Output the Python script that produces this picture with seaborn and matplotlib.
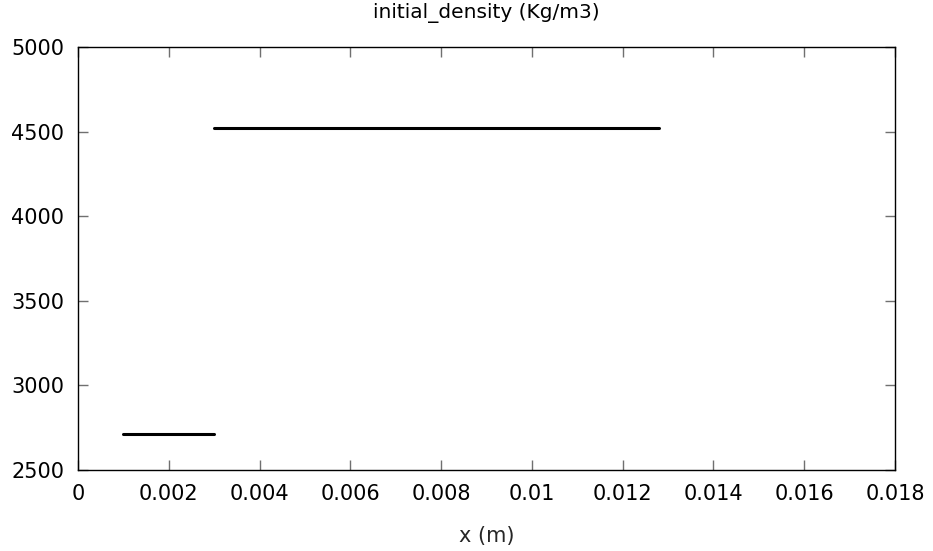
import numpy as np
import pandas as pd
import matplotlib
matplotlib.use('Agg')
import matplotlib.pyplot as plt
import seaborn as sns

sns.set_theme(style="ticks")
plt.rcParams['font.family'] = ['DejaVu Sans']

# segment data (x in m, density in Kg/m3)
seg1_x = [0.001, 0.003]
seg1_rho = [2710, 2710]
seg2_x = [0.003, 0.0128]
seg2_rho = [4520, 4520]

x_ticks = [0, 0.002, 0.004, 0.006, 0.008, 0.01, 0.012, 0.014, 0.016, 0.018]
x_labels = ['0', '0.002', '0.004', '0.006', '0.008', '0.01', '0.012', '0.014', '0.016', '0.018']
y_ticks = [2500, 3000, 3500, 4000, 4500, 5000]

df = pd.concat([
    pd.DataFrame({'x': seg1_x, 'rho': seg1_rho, 'seg': 'a'}),
    pd.DataFrame({'x': seg2_x, 'rho': seg2_rho, 'seg': 'b'}),
])

fig = plt.figure(figsize=(9.33, 5.51), dpi=100)
ax = fig.add_axes([0.0836, 0.147, 0.8757, 0.7677])

sns.lineplot(data=df, x='x', y='rho', units='seg', estimator=None,
             color='black', linewidth=2.2, ax=ax, legend=False)

ax.set_xlim(0, 0.018)
ax.set_ylim(2500, 5000)
ax.set_xticks(x_ticks)
ax.set_xticklabels(x_labels)
ax.set_yticks(y_ticks)
ax.tick_params(direction='in', length=7, width=1, colors='#707070',
               labelcolor='black', labelsize=15, top=True, right=True)
ax.tick_params(axis='x', pad=10)
ax.tick_params(axis='y', pad=10)
for s in ax.spines.values():
    s.set_linewidth(1)
    s.set_color('black')
ax.set_xlabel('x (m)', fontsize=15, labelpad=16)
ax.set_ylabel('')
ax.set_title('initial_density (Kg/m3)', fontsize=14.5, pad=21, color='black')

fig.savefig('out.png', dpi=100)
